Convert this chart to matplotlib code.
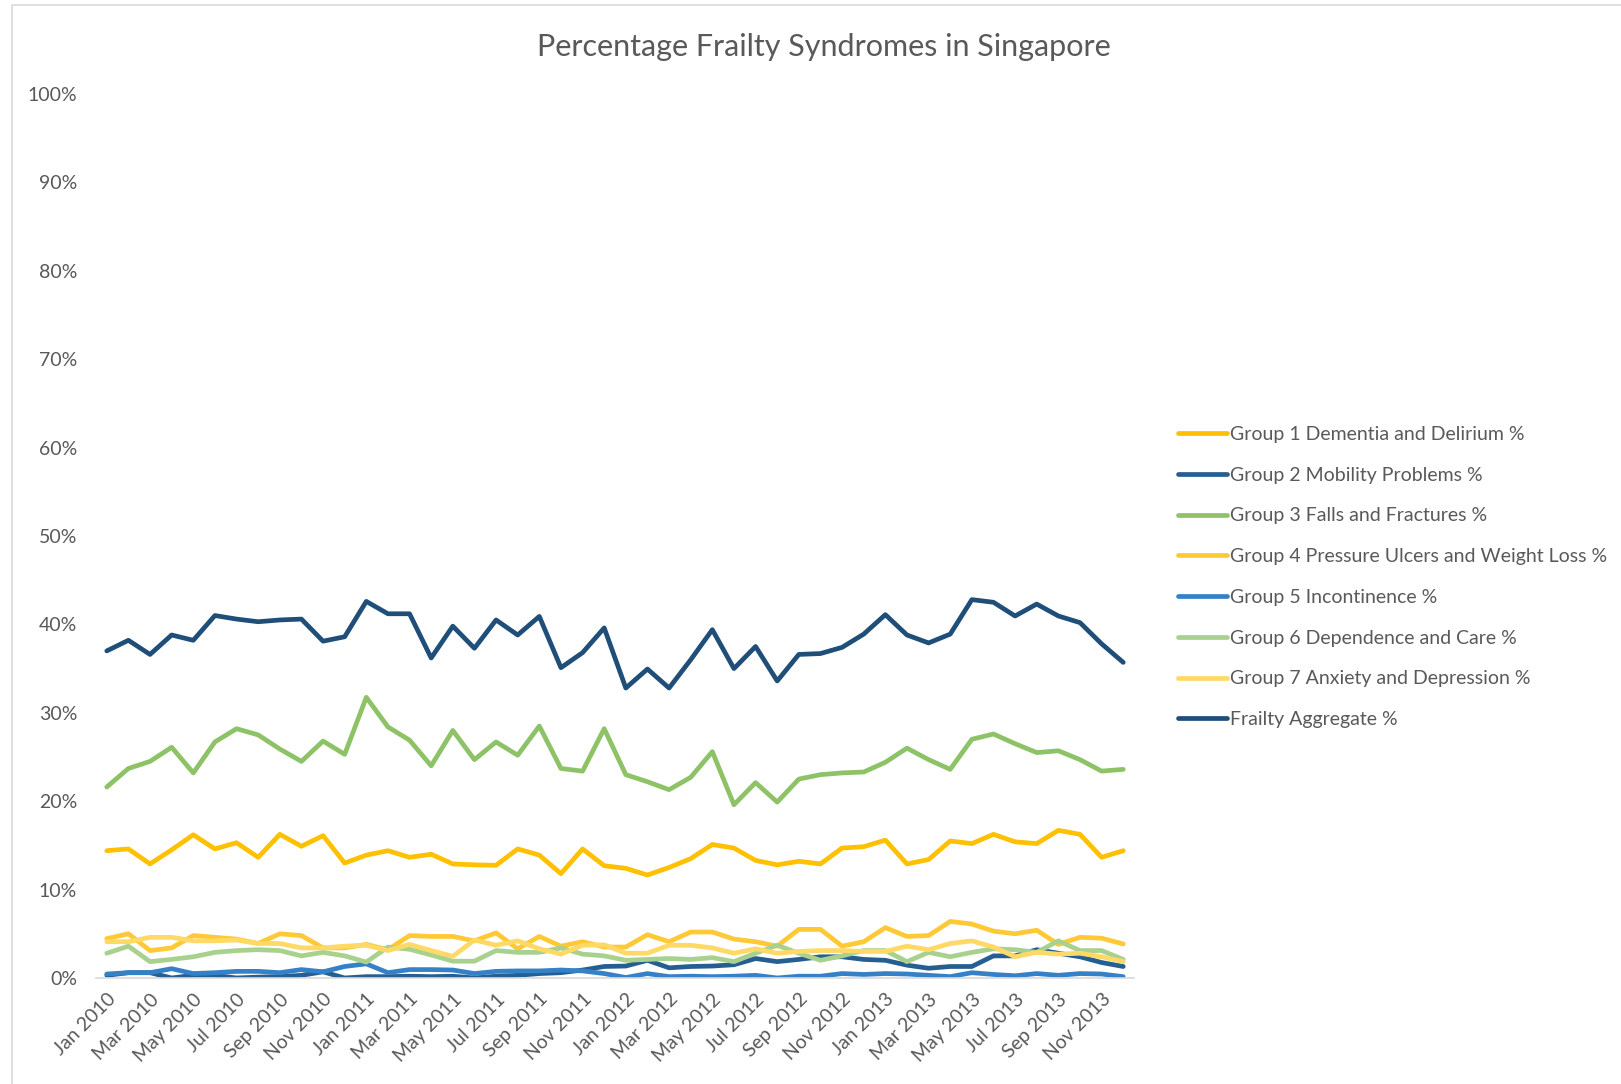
import pandas as pd
import matplotlib
matplotlib.use("Agg")
import matplotlib.pyplot as plt
from matplotlib.patches import Rectangle

months = pd.date_range("2010-01-01", periods=48, freq="MS")
month_labels = [m.strftime("%b %Y") for m in months]

group1 = [14.4, 14.6, 12.9, 14.5, 16.2, 14.6, 15.3, 13.65, 16.25, 14.9, 16.1, 13.0,
          13.9, 14.4, 13.65, 14.0, 12.9, 12.8, 12.75, 14.6, 13.9, 11.8, 14.6, 12.7,
          12.4, 11.65, 12.5, 13.5, 15.1, 14.7, 13.3, 12.8, 13.2, 12.9, 14.7, 14.85,
          15.6, 12.9, 13.4, 15.5, 15.2, 16.25, 15.4, 15.2, 16.7, 16.25, 13.65, 14.4]
group2 = [0.3, 0.6, 0.6, 0.0, 0.3, 0.3, 0.0, 0.1, 0.15, 0.3, 0.7, 0.0,
          0.15, 0.15, 0.2, 0.15, 0.2, 0.0, 0.2, 0.3, 0.5, 0.6, 0.9, 1.3,
          1.35, 2.0, 1.15, 1.3, 1.35, 1.5, 2.2, 1.85, 2.1, 2.4, 2.4, 2.1,
          2.0, 1.45, 1.1, 1.3, 1.3, 2.5, 2.5, 3.2, 2.8, 2.4, 1.75, 1.3]
group3 = [21.6, 23.7, 24.5, 26.1, 23.2, 26.7, 28.2, 27.5, 25.9, 24.5, 26.8, 25.3,
          31.75, 28.4, 26.9, 24.0, 28.0, 24.7, 26.7, 25.2, 28.5, 23.7, 23.4, 28.2,
          23.0, 22.2, 21.3, 22.7, 25.6, 19.6, 22.1, 19.9, 22.5, 23.0, 23.2, 23.3,
          24.4, 26.0, 24.7, 23.6, 27.0, 27.6, 26.5, 25.5, 25.7, 24.7, 23.4, 23.6]
group4 = [4.45, 5.0, 3.1, 3.4, 4.8, 4.6, 4.4, 3.9, 5.0, 4.8, 3.4, 3.4,
          3.8, 3.2, 4.8, 4.7, 4.7, 4.2, 5.1, 3.3, 4.7, 3.6, 4.1, 3.5,
          3.5, 4.9, 4.1, 5.2, 5.2, 4.4, 4.1, 3.6, 5.5, 5.5, 3.6, 4.1,
          5.7, 4.7, 4.8, 6.4, 6.1, 5.3, 5.0, 5.4, 3.8, 4.6, 4.5, 3.85]
group5 = [0.45, 0.6, 0.6, 1.05, 0.5, 0.6, 0.75, 0.75, 0.6, 0.95, 0.7, 1.3,
          1.6, 0.6, 0.95, 0.95, 0.9, 0.5, 0.75, 0.8, 0.8, 0.9, 0.8, 0.5,
          0.05, 0.5, 0.15, 0.2, 0.15, 0.2, 0.3, 0.0, 0.2, 0.2, 0.5, 0.4,
          0.5, 0.45, 0.3, 0.15, 0.6, 0.4, 0.25, 0.5, 0.3, 0.5, 0.45, 0.15]
group6 = [2.8, 3.6, 1.85, 2.1, 2.4, 2.9, 3.1, 3.2, 3.1, 2.5, 2.9, 2.5,
          1.8, 3.5, 3.25, 2.6, 1.9, 1.9, 3.1, 2.9, 2.9, 3.4, 2.7, 2.5,
          2.0, 2.1, 2.2, 2.1, 2.3, 1.85, 2.8, 3.7, 2.8, 2.0, 2.5, 3.1,
          3.1, 1.85, 2.9, 2.4, 2.9, 3.3, 3.2, 2.9, 4.2, 3.1, 3.1, 2.1]
group7 = [4.1, 4.1, 4.6, 4.6, 4.2, 4.2, 4.3, 3.9, 3.9, 3.4, 3.4, 3.6,
          3.7, 3.1, 3.8, 3.1, 2.45, 4.3, 3.7, 4.2, 3.3, 2.7, 3.7, 3.75,
          2.8, 2.8, 3.7, 3.7, 3.4, 2.8, 3.3, 2.8, 3.0, 3.1, 3.1, 3.0,
          3.0, 3.6, 3.2, 3.9, 4.2, 3.5, 2.4, 2.9, 2.7, 2.8, 2.4, 1.85]
aggregate = [37.0, 38.2, 36.6, 38.8, 38.2, 41.0, 40.6, 40.3, 40.5, 40.6, 38.1, 38.6,
             42.6, 41.2, 41.2, 36.2, 39.8, 37.3, 40.5, 38.8, 40.9, 35.1, 36.8, 39.6,
             32.8, 34.95, 32.8, 36.0, 39.4, 35.0, 37.5, 33.6, 36.6, 36.7, 37.4, 38.9,
             41.1, 38.8, 37.9, 38.9, 42.8, 42.5, 40.95, 42.3, 40.95, 40.2, 37.8, 35.7]

series = [
    ("Group 1 Dementia and Delirium %", group1, "#FFC000"),
    ("Group 2 Mobility Problems %", group2, "#255E91"),
    ("Group 3 Falls and Fractures %", group3, "#8DC266"),
    ("Group 4 Pressure Ulcers and Weight Loss %", group4, "#FFC935"),
    ("Group 5 Incontinence %", group5, "#3581C8"),
    ("Group 6 Dependence and Care %", group6, "#A9D18E"),
    ("Group 7 Anxiety and Depression %", group7, "#FFD966"),
    ("Frailty Aggregate %", aggregate, "#1F4E79"),
]

text_grey = "#595959"
plt.rcParams["font.family"] = ["Lato", "DejaVu Sans"]

fig = plt.figure(figsize=(16.21, 10.84), dpi=100)
ax = fig.add_axes([0.0592, 0.0978, 0.6404, 0.8155])

x = list(range(len(months)))
for name, values, colour in series:
    ax.plot(x, values, color=colour, lw=3.4, label=name,
            solid_capstyle="round", solid_joinstyle="round")

ax.set_xlim(-0.5, len(months) - 0.5)
ax.set_ylim(0, 100)
ax.set_yticks(range(0, 101, 10))
ax.set_yticklabels([f"{v}%" for v in range(0, 101, 10)])
ax.set_xticks(x[::2])
ax.set_xticklabels(month_labels[::2], rotation=45, ha="right",
                   rotation_mode="anchor")

for side in ["top", "right", "left"]:
    ax.spines[side].set_visible(False)
ax.spines["bottom"].set_color("#D9D9D9")
ax.spines["bottom"].set_linewidth(1.2)
ax.tick_params(length=0, labelsize=14, labelcolor=text_grey)
ax.tick_params(axis="y", pad=13.5)
ax.tick_params(axis="x", pad=9)

fig.text(0.5085, 0.957, "Percentage Frailty Syndromes in Singapore",
         ha="center", va="center", fontsize=22, color=text_grey)

leg = fig.legend(loc="center left", bbox_to_anchor=(0.722, 0.4677),
                 frameon=False, fontsize=14, handlelength=2.5,
                 handletextpad=0.15, labelspacing=1.22, borderaxespad=0)
for t in leg.get_texts():
    t.set_color(text_grey)

# chart border, cut off on the right and bottom like the source image
fig.patches.append(Rectangle((12 / 1621, -0.05), 1.1, 1.05 - 5 / 1084,
                             transform=fig.transFigure, fill=False,
                             edgecolor="#D9D9D9", lw=1.2))

fig.savefig("out.png", dpi=100)
plt.close(fig)
